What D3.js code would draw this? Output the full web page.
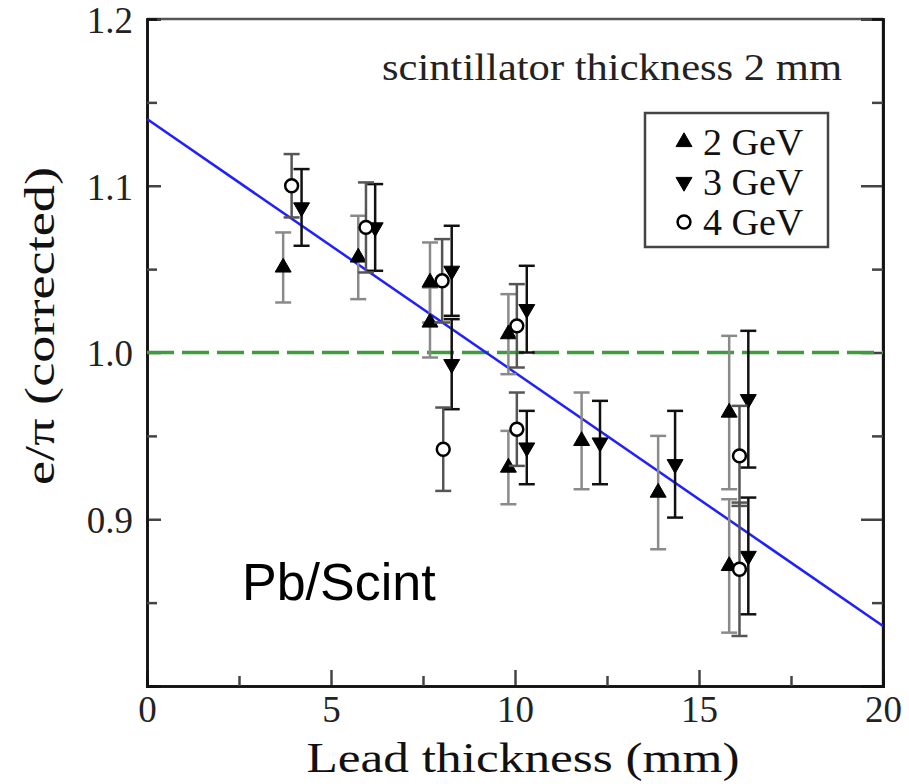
<!DOCTYPE html>
<html>
<head>
<meta charset="utf-8">
<title>e/pi vs lead thickness</title>
<script src="https://cdnjs.cloudflare.com/ajax/libs/d3/7.8.5/d3.min.js"></script>
<style>
	body { margin: 0; background: #fff; }
	text { font-family: "Liberation Serif", "DejaVu Serif", serif; }
</style>
</head>
<body>
<svg id="chart" width="909" height="784"></svg>
<script>
// 2 GeV (triangle up)
const lead2 = [3.70, 5.74, 7.69, 7.69, 9.82, 9.82, 11.81, 13.89, 15.82, 15.82];
const ratio2 = [1.051, 1.057, 1.042, 1.018, 1.011, 0.931, 0.947, 0.916, 0.964, 0.872];
const err2 = [0.021, 0.025, 0.024, 0.021, 0.024, 0.022, 0.029, 0.034, 0.046, 0.040];

// 3 GeV (triangle down)
const lead3 = [4.20, 6.20, 8.28, 8.28, 10.32, 10.32, 12.31, 14.35, 16.34, 16.34];
const ratio3 = [1.087, 1.075, 1.049, 0.993, 1.026, 0.943, 0.946, 0.933, 0.972, 0.878];
const err3 = [0.023, 0.026, 0.027, 0.027, 0.026, 0.022, 0.025, 0.032, 0.041, 0.035];

// 4 GeV (open circle)
const lead4 = [3.93, 5.95, 8.02, 8.05, 10.05, 10.05, 16.10, 16.10];
const ratio4 = [1.100, 1.075, 1.043, 0.942, 1.016, 0.954, 0.938, 0.870];
const err4 = [0.019, 0.027, 0.025, 0.025, 0.025, 0.022, 0.030, 0.040];

// linear fit and reference line
const fitLead = [0, 20];
const fitRatio = [1.140, 0.836];
const refRatio = 1.0;

const xMajor = [0, 5, 10, 15, 20];
const xMinor = [2.5, 7.5, 12.5, 17.5];
const yMajor = [0.9, 1.0, 1.1, 1.2];
const yMinor = [0.85, 0.95, 1.05, 1.15];
const legendLabels = ["2 GeV", "3 GeV", "4 GeV"];

const svg = d3.select("#chart");
const L = 147, R = 883, T = 19, B = 686;

const x = d3.scaleLinear().domain([0, 20]).range([L, R]);
const y = d3.scaleLinear().domain([0.8, 1.2]).range([B, T]);

// frame
svg.append("line").attr("x1", L).attr("x2", R).attr("y1", T).attr("y2", T).attr("stroke", "#555").attr("stroke-width", 2.5);
svg.append("line").attr("x1", R).attr("x2", R).attr("y1", T).attr("y2", B).attr("stroke", "#666").attr("stroke-width", 2.5);

// axes with inward ticks
const bottomMajor = svg.append("g").attr("transform", "translate(0," + B + ")")
	.call(d3.axisBottom(x).tickValues(xMajor).tickSize(-16).tickPadding(10).tickFormat(d3.format("d")));
svg.append("g").attr("transform", "translate(0," + B + ")")
	.call(d3.axisBottom(x).tickValues(xMinor).tickSize(-10).tickFormat(""));
const leftMajor = svg.append("g").attr("transform", "translate(" + L + ",0)")
	.call(d3.axisLeft(y).tickValues(yMajor).tickSize(-14).tickPadding(14).tickFormat(d3.format(".1f")));
svg.append("g").attr("transform", "translate(" + L + ",0)")
	.call(d3.axisLeft(y).tickValues(yMinor).tickSize(-10).tickFormat(""));
svg.append("g").attr("transform", "translate(" + R + ",0)")
	.call(d3.axisRight(y).tickValues(yMajor).tickSize(-22).tickFormat(""));
svg.append("g").attr("transform", "translate(" + R + ",0)")
	.call(d3.axisRight(y).tickValues(yMinor).tickSize(-11).tickFormat(""));

svg.selectAll(".domain").attr("stroke", "#111").attr("stroke-width", 2.5);
svg.selectAll(".tick line").attr("stroke", "#444").attr("stroke-width", 2.5);
svg.selectAll(".tick text").attr("font-family", "Liberation Serif").attr("font-size", 37).attr("fill", "#222");
bottomMajor.selectAll(".tick text").attr("dy", "0.71em");
leftMajor.selectAll(".tick text").attr("dy", "0.36em");

// axis titles
svg.append("text").attr("x", 523).attr("y", 772).attr("text-anchor", "middle")
	.attr("font-size", 42).attr("fill", "#111")
	.attr("textLength", 433).attr("lengthAdjust", "spacingAndGlyphs")
	.text("Lead thickness (mm)");
svg.append("text").attr("transform", "translate(54,326) rotate(-90)").attr("text-anchor", "middle")
	.attr("font-size", 42).attr("fill", "#111")
	.attr("textLength", 318).attr("lengthAdjust", "spacingAndGlyphs")
	.text("e/\u03c0 (corrected)");

// annotations
svg.append("text").attr("x", 842).attr("y", 80).attr("text-anchor", "end")
	.attr("font-size", 38).attr("fill", "#222")
	.attr("textLength", 460).attr("lengthAdjust", "spacingAndGlyphs")
	.text("scintillator thickness 2 mm");
svg.append("text").attr("x", 242).attr("y", 600)
	.style("font-family", "'Liberation Sans', Arial, sans-serif")
	.attr("font-size", 52).attr("fill", "#000")
	.text("Pb/Scint");

// reference and fit lines
svg.append("line").attr("x1", x(0)).attr("x2", x(20)).attr("y1", y(refRatio)).attr("y2", y(refRatio))
	.attr("stroke", "#3d9d3d").attr("stroke-width", 3.5).attr("stroke-dasharray", "27,8");
svg.append("line").attr("x1", x(fitLead[0])).attr("x2", x(fitLead[1]))
	.attr("y1", y(fitRatio[0])).attr("y2", y(fitRatio[1]))
	.attr("stroke", "#1f1fff").attr("stroke-width", 2.5);

const triUp = d3.symbol().type(d3.symbolTriangle).size(110);
const circ = d3.symbol().type(d3.symbolCircle).size(130);

function drawSeries(xs, ys, es, kind, barColor) {
	const pts = xs.map((d, i) => ({ x: d, y: ys[i], e: es[i] }));
	const g = svg.append("g");
	const bars = g.selectAll("g.bar").data(pts).enter().append("g").attr("class", "bar")
		.attr("stroke", barColor).attr("stroke-width", 2.5);
	bars.append("line").attr("x1", d => x(d.x)).attr("x2", d => x(d.x))
		.attr("y1", d => y(d.y - d.e)).attr("y2", d => y(d.y + d.e));
	bars.append("line").attr("x1", d => x(d.x) - 8).attr("x2", d => x(d.x) + 8)
		.attr("y1", d => y(d.y + d.e)).attr("y2", d => y(d.y + d.e));
	bars.append("line").attr("x1", d => x(d.x) - 8).attr("x2", d => x(d.x) + 8)
		.attr("y1", d => y(d.y - d.e)).attr("y2", d => y(d.y - d.e));
	const m = g.selectAll("path.mark").data(pts).enter().append("path").attr("class", "mark");
	styleMark(m, kind).attr("transform", d => "translate(" + x(d.x) + "," + y(d.y) + ")" + (kind === "down" ? " rotate(180)" : ""));
}

function styleMark(sel, kind) {
	if (kind === "circle") {
		return sel.attr("d", circ).attr("fill", "#fff").attr("stroke", "#000").attr("stroke-width", 2.5);
	}
	return sel.attr("d", triUp).attr("fill", "#000").attr("stroke", "#000").attr("stroke-width", 1);
}

drawSeries(lead2, ratio2, err2, "up", "#8a8a8a");
drawSeries(lead3, ratio3, err3, "down", "#111");
drawSeries(lead4, ratio4, err4, "circle", "#555");

// legend
const legend = svg.append("g");
legend.append("rect").attr("x", 645).attr("y", 113).attr("width", 183).attr("height", 134)
	.attr("fill", "#fff").attr("stroke", "#444").attr("stroke-width", 2.5);
const kinds = ["up", "down", "circle"];
const rows = legend.selectAll("g.row").data(legendLabels).enter().append("g").attr("class", "row")
	.attr("transform", (d, i) => "translate(0," + (142 + i * 40) + ")");
rows.append("path").each(function(d, i) {
	styleMark(d3.select(this), kinds[i])
		.attr("transform", "translate(684,0)" + (kinds[i] === "down" ? " rotate(180)" : ""));
});
rows.append("text").attr("x", 703).attr("y", 13)
	.attr("font-size", 38).attr("fill", "#111")
	.text(d => d);
</script>
</body>
</html>
